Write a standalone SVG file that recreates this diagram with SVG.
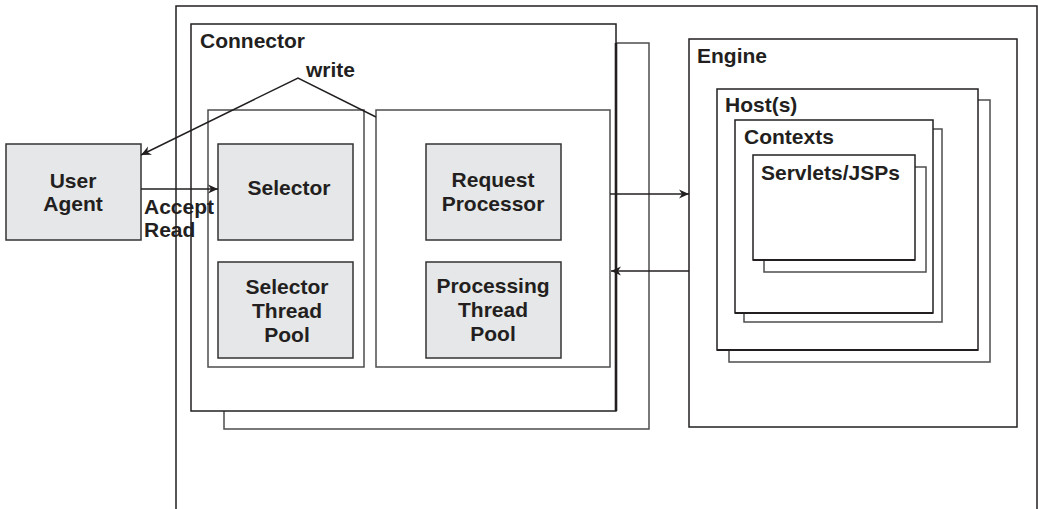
<svg xmlns="http://www.w3.org/2000/svg" width="1038" height="509" viewBox="0 0 1038 509">
<defs>
<marker id="ah" markerWidth="12" markerHeight="10" refX="10" refY="5" orient="auto" markerUnits="userSpaceOnUse">
<path d="M0,0.5 L10,5 L0,9.5 L3,5 Z" fill="#231f20"/>
</marker>
<style>
.f{fill:#fff;stroke:#231f20;stroke-width:1.5}
.s{fill:#fff;stroke:#4d4d4f;stroke-width:1.5}
.g{fill:#e6e7e8;stroke:#333;stroke-width:1.5}
.t{font-family:"Liberation Sans",Arial,Helvetica,sans-serif;font-weight:bold;font-size:21px;fill:#231f20}
.c{text-anchor:middle}
.l{fill:none;stroke:#231f20;stroke-width:1.4}
</style>
</defs>
<rect width="1038" height="509" fill="#fff"/>
<g id="container">
<path d="M176,509 V6 H1037 V509" fill="none" stroke="#231f20" stroke-width="1.5"/>
</g>
<g id="connector">
<rect class="s" x="224" y="43" width="425" height="386"/>
<rect class="f" x="191" y="24" width="425" height="387"/>
<line x1="616" y1="43" x2="616" y2="411" stroke="#231f20" stroke-width="2.6"/>
<text class="t" x="200" y="48">Connector</text>
</g>
<g id="selector-group">
<rect class="s" x="208" y="110" width="156" height="257"/>
</g>
<g id="processor-group">
<rect class="s" x="376" y="110" width="234" height="257"/>
</g>
<g id="user-agent">
<rect class="g" x="6" y="144" width="135" height="96"/>
<text class="t c" x="73" y="188">User</text>
<text class="t c" x="73" y="211">Agent</text>
</g>
<g id="selector">
<rect class="g" x="218" y="144" width="135" height="96"/>
<text class="t c" x="289" y="195">Selector</text>
</g>
<g id="selector-thread-pool">
<rect class="g" x="218" y="262" width="135" height="96"/>
<text class="t c" x="287" y="294">Selector</text>
<text class="t c" x="287" y="318">Thread</text>
<text class="t c" x="287" y="342">Pool</text>
</g>
<g id="request-processor">
<rect class="g" x="426" y="144" width="135" height="96"/>
<text class="t c" x="493" y="187">Request</text>
<text class="t c" x="493" y="211">Processor</text>
</g>
<g id="processing-thread-pool">
<rect class="g" x="426" y="262" width="135" height="96"/>
<text class="t c" x="493" y="293">Processing</text>
<text class="t c" x="493" y="317">Thread</text>
<text class="t c" x="493" y="341">Pool</text>
</g>
<g id="engine">
<rect class="f" x="689" y="39" width="328" height="388"/>
<text class="t" x="697" y="63">Engine</text>
</g>
<g id="hosts">
<rect class="s" x="729" y="100" width="261" height="262"/>
<rect class="f" x="717" y="89" width="261" height="261"/>
<line x1="717" y1="350" x2="978" y2="350" stroke="#231f20" stroke-width="2.2"/>
<text class="t" x="725" y="112">Host(s)</text>
</g>
<g id="contexts">
<rect class="s" x="744" y="129" width="198" height="193"/>
<rect class="f" x="735" y="120" width="198" height="193"/>
<line x1="735" y1="313" x2="933" y2="313" stroke="#231f20" stroke-width="2.2"/>
<text class="t" x="744" y="144">Contexts</text>
</g>
<g id="servlets">
<rect class="s" x="764" y="167" width="162" height="105"/>
<rect class="f" x="753" y="155" width="162" height="105"/>
<line x1="753" y1="260" x2="915" y2="260" stroke="#231f20" stroke-width="2"/>
<text class="t" x="761" y="180">Servlets/JSPs</text>
</g>
<g id="connectors">
<line class="l" x1="141" y1="189" x2="218" y2="189" marker-end="url(#ah)"/>
<polyline class="l" points="376,117 298,78 141,155" marker-end="url(#ah)"/>
<line class="l" x1="610" y1="194" x2="689" y2="194" marker-end="url(#ah)"/>
<line class="l" x1="689" y1="271" x2="611" y2="271" marker-end="url(#ah)"/>
<text class="t" x="306" y="77">write</text>
<text class="t" x="144" y="214">Accept</text>
<text class="t" x="144" y="237">Read</text>
</g>
</svg>
